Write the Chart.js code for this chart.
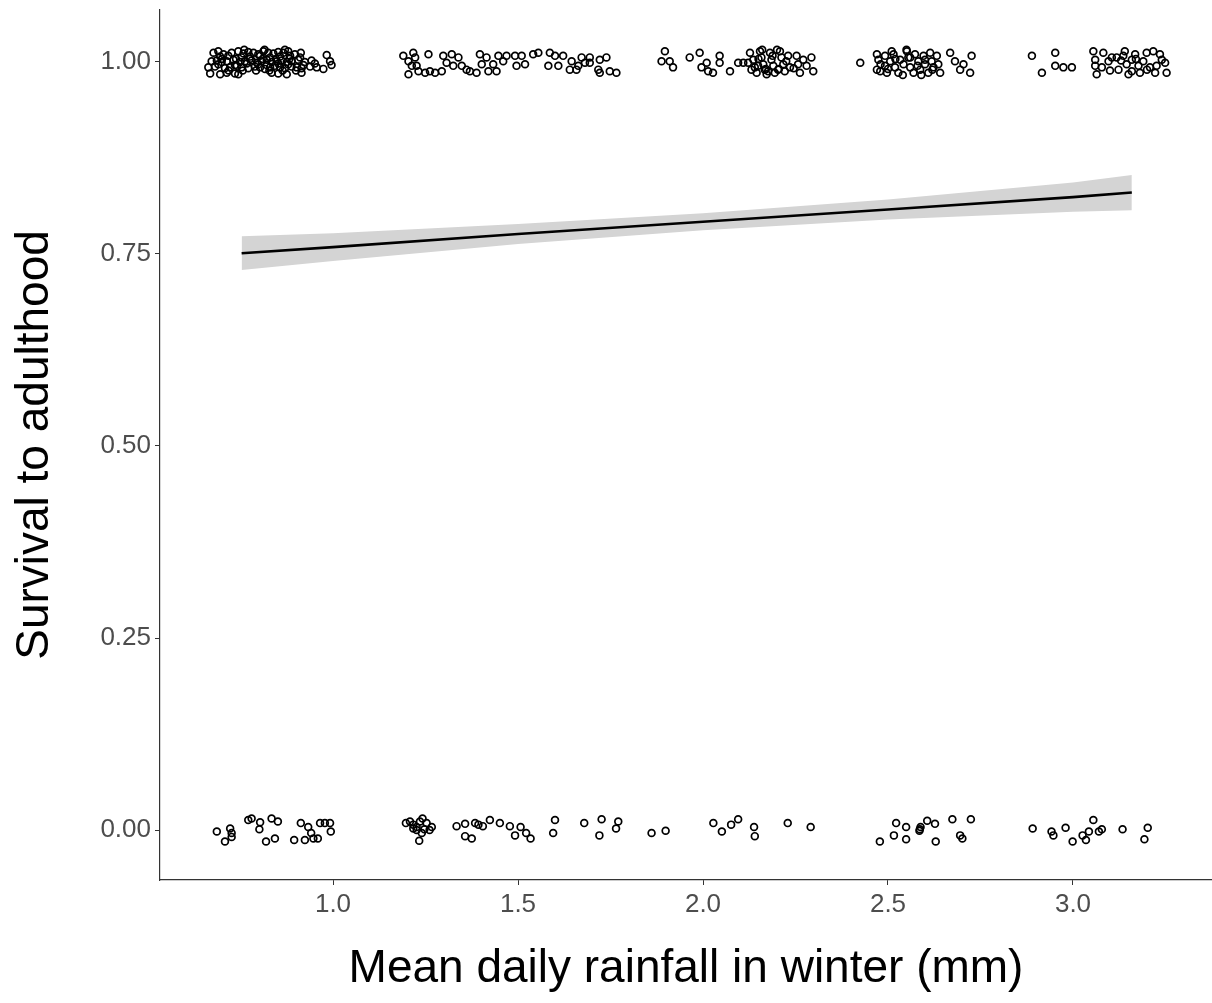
<!DOCTYPE html>
<html>
<head>
<meta charset="utf-8">
<title>Survival to adulthood vs winter rainfall</title>
<script src="https://cdn.jsdelivr.net/npm/chart.js@4.4.1/dist/chart.umd.min.js"></script>
<style>
  html, body { margin: 0; padding: 0; background: #fff; }
  #wrap { width: 1212px; height: 1003px; }
</style>
</head>
<body>
<div id="wrap"><canvas id="chart" width="1212" height="1003"></canvas></div>
<script>
// fitted logistic curve and its 95% band
const fitX = [0.753, 1.0, 1.5, 2.0, 2.5, 3.0, 3.159];
const fitY = [0.751, 0.759, 0.776, 0.792, 0.808, 0.824, 0.830];
const bandLow = [0.729, 0.741, 0.763, 0.781, 0.795, 0.805, 0.807];
const bandHigh = [0.773, 0.777, 0.789, 0.803, 0.821, 0.843, 0.853];

// jittered observations, survived (y ~ 1)
const survivedX = [
  0.677, 0.690, 0.704, 0.726, 0.744, 0.758, 0.771, 0.785, 0.798, 0.812, 0.825, 0.839, 0.852, 0.866, 0.879, 0.897, 0.913, 0.983,
  0.672, 0.686, 0.699, 0.713, 0.731, 0.749, 0.762, 0.780, 0.794, 0.807, 0.821, 0.834, 0.848, 0.861, 0.875, 0.888, 0.906, 0.924, 0.942, 0.992,
  0.663, 0.681, 0.708, 0.722, 0.740, 0.753, 0.771, 0.789, 0.803, 0.816, 0.830, 0.843, 0.857, 0.870, 0.888, 0.902, 0.915, 0.938, 0.956, 0.974, 0.996,
  0.668, 0.695, 0.713, 0.735, 0.744, 0.834, 0.852, 0.875, 0.915,
  0.695, 0.717, 0.753, 0.776, 0.803, 0.830, 0.857, 0.884, 0.911,
  0.690, 0.735, 0.767, 0.798, 0.821, 0.852, 0.879, 0.920, 0.951,
  0.700, 0.718, 0.738, 0.756, 0.775, 0.792, 0.810, 0.828, 0.846, 0.864, 0.882, 0.900, 0.760, 0.815, 0.870,
  1.190, 1.204, 1.217, 1.222, 1.213, 1.226, 1.204, 1.231, 1.249, 1.258, 1.262, 1.276, 1.294, 1.298, 1.307, 1.321, 1.325,
  1.339, 1.348, 1.361, 1.370, 1.388, 1.397, 1.402, 1.415, 1.420, 1.433, 1.442, 1.447, 1.460, 1.469, 1.492, 1.496, 1.510,
  1.519, 1.541, 1.555, 1.586, 1.582, 1.600, 1.609, 1.622, 1.645, 1.640, 1.658, 1.672, 1.681, 1.694, 1.694, 1.721, 1.739,
  1.717, 1.721, 1.748, 1.766, 1.663,
  1.897, 1.888, 1.910, 1.919, 1.964, 1.991, 1.996, 2.010, 2.014, 2.027, 2.045, 2.045, 2.073, 2.095, 2.109, 2.122,
  2.127, 2.136, 2.140, 2.145, 2.154, 2.158, 2.163, 2.167, 2.172, 2.181, 2.185, 2.190, 2.194, 2.208, 2.212, 2.217, 2.221,
  2.230, 2.235, 2.253, 2.257, 2.262, 2.271, 2.280, 2.293, 2.298, 2.203, 2.176, 2.149, 2.131,
  2.150, 2.170, 2.188, 2.205, 2.225, 2.245, 2.160, 2.200,
  2.425, 2.470, 2.474, 2.470, 2.479, 2.492, 2.492, 2.497, 2.506, 2.515, 2.519, 2.528, 2.533, 2.542, 2.551, 2.555,
  2.560, 2.569, 2.573, 2.582, 2.587, 2.596, 2.600, 2.609, 2.614, 2.618, 2.623, 2.632, 2.636, 2.641,
  2.668, 2.681, 2.695, 2.704, 2.722, 2.726,
  2.480, 2.500, 2.520, 2.540, 2.560, 2.580, 2.600, 2.620, 2.510, 2.550, 2.590,
  2.889, 2.916, 2.952, 2.952, 2.974, 2.997, 3.055, 3.060, 3.060, 3.064, 3.082, 3.078, 3.096, 3.105,
  3.118, 3.123, 3.136, 3.145, 3.159, 3.159, 3.168, 3.177, 3.181, 3.190, 3.199, 3.208,
  3.217, 3.226, 3.235, 3.240, 3.249, 3.253, 3.222,
  3.100, 3.130, 3.150, 3.170, 3.200, 3.140
];
const survivedY = [
  1.012, 1.014, 1.010, 1.012, 1.014, 1.011, 1.013, 1.012, 1.010, 1.014, 1.012, 1.011, 1.013, 1.012, 1.014, 1.010, 1.012, 1.009,
  1.001, 1.002, 1.000, 1.001, 1.003, 1.000, 1.001, 1.002, 0.999, 1.001, 1.003, 1.000, 1.001, 1.002, 1.000, 1.001, 1.003, 1.000, 1.002, 1.001,
  0.993, 0.994, 0.992, 0.993, 0.995, 0.993, 0.992, 0.994, 0.993, 0.991, 0.993, 0.995, 0.993, 0.992, 0.994, 0.993, 0.992, 0.994, 0.993, 0.991, 0.996,
  0.985, 0.984, 0.986, 0.985, 0.984, 0.986, 0.985, 0.984, 0.986,
  1.007, 1.008, 1.006, 1.007, 1.008, 1.006, 1.007, 1.008, 1.006,
  0.997, 0.996, 0.998, 0.997, 0.996, 0.998, 0.997, 0.996, 0.998,
  1.004, 0.989, 1.004, 0.989, 1.004, 0.989, 1.004, 0.989, 1.004, 0.989, 1.004, 0.989, 1.016, 1.016, 1.016,
  1.008, 1.001, 1.012, 1.006, 0.995, 0.995, 0.984, 0.988, 0.986, 1.010, 0.988, 0.986, 0.988, 1.008, 0.999, 1.010, 0.995,
  1.006, 0.995, 0.990, 0.988, 0.986, 1.010, 0.997, 1.006, 0.988, 0.997, 0.988, 1.008, 1.001, 1.008, 1.008, 0.995, 1.008,
  0.997, 1.010, 1.012, 1.012, 0.995, 1.008, 0.995, 1.008, 1.001, 0.990, 0.990, 1.006, 0.999, 1.006, 0.999, 1.003, 1.006,
  0.990, 0.986, 0.988, 0.986, 0.995,
  1.014, 1.001, 1.001, 0.993, 1.006, 1.012, 0.993, 0.999, 0.988, 0.986, 1.008, 0.999, 0.988, 0.999, 0.999, 0.999,
  1.012, 1.003, 0.993, 0.986, 1.014, 1.006, 0.997, 0.990, 0.984, 1.012, 1.003, 0.995, 0.986, 1.014, 1.006, 0.997, 0.988,
  1.008, 0.993, 1.008, 0.997, 0.986, 1.003, 0.995, 1.006, 0.988, 0.990, 0.988, 0.995, 0.990,
  1.004, 0.991, 1.008, 0.991, 1.001, 0.992, 1.016, 1.016,
  0.999, 1.010, 1.003, 0.990, 0.988, 1.008, 0.995, 0.986, 1.001, 1.010, 0.993, 0.986, 1.003, 0.997, 1.014, 1.006,
  0.993, 0.986, 1.010, 1.001, 0.990, 1.008, 0.997, 0.986, 1.012, 1.001, 0.993, 1.008, 0.997, 0.986,
  1.012, 1.001, 0.990, 0.997, 0.986, 1.008,
  0.997, 0.991, 1.004, 0.983, 1.006, 0.995, 1.003, 0.990, 1.014, 1.016, 0.983,
  1.008, 0.986, 1.012, 0.995, 0.993, 0.993, 1.014, 1.003, 0.995, 0.984, 1.012, 0.993, 1.001, 1.006,
  1.006, 0.990, 1.008, 0.997, 1.003, 0.988, 1.010, 0.995, 0.986, 1.001, 1.012, 0.993,
  1.014, 0.995, 1.010, 1.003, 0.999, 0.986, 0.986,
  0.989, 1.002, 0.984, 1.004, 0.990, 1.014
];

// jittered observations, died (y ~ 0)
const diedX = [
  0.686, 0.708, 0.722, 0.726, 0.726, 0.771, 0.780, 0.803, 0.801, 0.819, 0.834, 0.851, 0.843, 0.895, 0.913, 0.924,
  0.933, 0.941, 0.947, 0.959, 0.965, 0.978, 0.992, 0.994,
  1.197, 1.208, 1.217, 1.226, 1.235, 1.242, 1.253, 1.267, 1.261, 1.240, 1.226, 1.233, 1.217, 1.247,
  1.334, 1.357, 1.357, 1.375, 1.384, 1.393, 1.405, 1.424, 1.451, 1.478, 1.492, 1.507, 1.522, 1.534,
  1.600, 1.595, 1.679, 1.720, 1.726, 1.765, 1.771, 1.861, 1.899,
  2.028, 2.051, 2.076, 2.095, 2.138, 2.140, 2.229, 2.291,
  2.478, 2.516, 2.522, 2.549, 2.549, 2.585, 2.588, 2.606, 2.627, 2.629, 2.586, 2.674, 2.695, 2.701, 2.724,
  2.891, 2.942, 2.947, 2.980, 2.999, 3.026, 3.035, 3.043, 3.055, 3.070, 3.078, 3.134, 3.202, 3.193
];
const diedY = [
  -0.002, -0.015, 0.002, -0.004, -0.009, 0.013, 0.015, 0.010, 0.001, -0.015, 0.015, 0.011, -0.011, -0.013, 0.009, -0.013,
  0.004, -0.004, -0.011, -0.011, 0.009, 0.009, 0.009, -0.002,
  0.009, 0.011, 0.007, 0.004, 0.011, 0.015, 0.009, 0.004, 0.000, -0.004, 0.000, -0.014, 0.002, 0.001,
  0.005, 0.008, -0.008, -0.011, 0.009, 0.007, 0.005, 0.013, 0.009, 0.005, -0.007, 0.004, -0.004, -0.011,
  0.013, -0.004, 0.009, -0.007, 0.014, 0.002, 0.011, -0.004, -0.001,
  0.009, -0.002, 0.007, 0.014, 0.004, -0.008, 0.009, 0.004,
  -0.015, -0.007, 0.009, 0.004, -0.012, -0.001, 0.004, 0.012, 0.008, -0.015, 0.001, 0.014, -0.007, -0.011, 0.014,
  0.002, -0.002, -0.007, 0.003, -0.015, -0.007, -0.013, -0.002, 0.013, -0.002, 0.001, 0.001, 0.003, -0.012
];

const yTicks = [0, 0.25, 0.5, 0.75, 1.0];
const xTicks = [1.0, 1.5, 2.0, 2.5, 3.0];

const toPoints = (xs, ys) => xs.map((x, i) => ({ x: x, y: ys[i] }));

const FONT = '"Liberation Sans", Arial, Helvetica, sans-serif';
const AXIS_COLOR = '#333333';
const TICK_TEXT = '#4d4d4d';

const ctx = document.getElementById('chart').getContext('2d');

new Chart(ctx, {
    type: 'scatter',
    data: {
        datasets: [
            {
                type: 'line',
                label: 'upper',
                data: toPoints(fitX, bandHigh),
                borderWidth: 0,
                pointRadius: 0,
                backgroundColor: '#d4d4d4',
                fill: '+1',
                order: 3
            },
            {
                type: 'line',
                label: 'lower',
                data: toPoints(fitX, bandLow),
                borderWidth: 0,
                pointRadius: 0,
                fill: false,
                order: 3
            },
            {
                type: 'line',
                label: 'fit',
                data: toPoints(fitX, fitY),
                borderColor: '#000000',
                borderWidth: 2.6,
                pointRadius: 0,
                fill: false,
                order: 2
            },
            {
                label: 'survived',
                data: toPoints(survivedX, survivedY),
                pointStyle: 'circle',
                pointRadius: 3.4,
                borderWidth: 1.7,
                borderColor: '#000000',
                backgroundColor: 'rgba(0,0,0,0)',
                order: 1
            },
            {
                label: 'died',
                data: toPoints(diedX, diedY),
                pointStyle: 'circle',
                pointRadius: 3.4,
                borderWidth: 1.7,
                borderColor: '#000000',
                backgroundColor: 'rgba(0,0,0,0)',
                order: 1
            }
        ]
    },
    options: {
        responsive: false,
        animation: false,
        devicePixelRatio: 1,
        layout: {
            autoPadding: false, // keep the plot panel flush with the right edge
            padding: { top: 10, right: 0, bottom: 0, left: 0 }
        },
        plugins: {
            legend: { display: false },
            tooltip: { enabled: false }
        },
        scales: {
            x: {
                type: 'linear',
                min: 0.5324,
                max: 3.3757,
                afterFit: scale => {
                    scale.height = 123;
                    scale.paddingLeft = 0;
                    scale.paddingRight = 0;
                },
                afterBuildTicks: scale => { scale.ticks = xTicks.map(v => ({ value: v })); },
                grid: {
                    display: true,
                    drawOnChartArea: false,
                    drawTicks: true,
                    tickLength: 5,
                    color: AXIS_COLOR,
                    lineWidth: 1
                },
                border: { display: true, color: AXIS_COLOR, width: 1.2 },
                ticks: {
                    padding: 4,
                    color: TICK_TEXT,
                    font: { family: FONT, size: 26 },
                    maxRotation: 0,
                    callback: v => Number(v).toFixed(1)
                },
                title: {
                    display: true,
                    text: 'Mean daily rainfall in winter (mm)',
                    color: '#000000',
                    font: { family: FONT, size: 46 },
                    padding: { top: 0, bottom: 6 }
                }
            },
            y: {
                type: 'linear',
                min: -0.0651,
                max: 1.0677,
                afterFit: scale => {
                    scale.width = 160;
                    scale.paddingTop = 0;
                    scale.paddingBottom = 0;
                },
                afterBuildTicks: scale => { scale.ticks = yTicks.map(v => ({ value: v })); },
                grid: {
                    display: true,
                    drawOnChartArea: false,
                    drawTicks: true,
                    tickLength: 5,
                    color: AXIS_COLOR,
                    lineWidth: 1
                },
                border: { display: true, color: AXIS_COLOR, width: 1.2 },
                ticks: {
                    padding: 4,
                    color: TICK_TEXT,
                    font: { family: FONT, size: 26 },
                    callback: v => Number(v).toFixed(2)
                },
                title: {
                    display: true,
                    text: 'Survival to adulthood',
                    color: '#000000',
                    font: { family: FONT, size: 46 },
                    padding: { top: 8, bottom: 0 }
                }
            }
        }
    }
});
</script>
</body>
</html>
